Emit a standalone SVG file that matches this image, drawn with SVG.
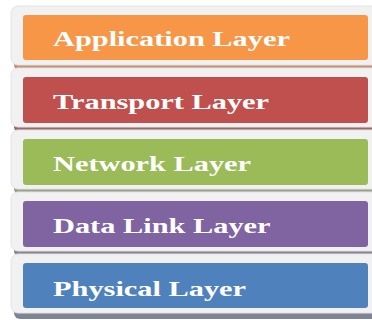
<svg xmlns="http://www.w3.org/2000/svg" width="372" height="320" viewBox="0 0 372 320">
<style>
.bg{fill:#f1f1f1;stroke:#e4e4e4;stroke-width:1}
.t{font-family:"Liberation Serif","Times New Roman",serif;font-weight:bold;font-size:22px;fill:#ffffff}
</style>
<rect width="372" height="320" fill="#ffffff"/>
<g id="application">
<rect x="14" y="12" width="370" height="59" rx="6" fill="#c48f73"/>
<rect class="bg" x="11" y="6" width="370" height="59" rx="7"/>
<rect x="23" y="15" width="345" height="45" rx="3" fill="#f79646"/>
<text class="t" transform="translate(53,46) scale(1.38,1)">Application Layer</text>
</g>
<g id="transport">
<rect x="14" y="74" width="370" height="59" rx="6" fill="#9a6a69"/>
<rect class="bg" x="11" y="68" width="370" height="59" rx="7"/>
<rect x="23" y="77" width="345" height="46" rx="3" fill="#c0504d"/>
<text class="t" transform="translate(53,109) scale(1.38,1)">Transport Layer</text>
</g>
<g id="network">
<rect x="14" y="136" width="370" height="59" rx="6" fill="#9aa08a"/>
<rect class="bg" x="11" y="130" width="370" height="59" rx="7"/>
<rect x="23" y="139" width="345" height="46" rx="3" fill="#9bbb59"/>
<text class="t" transform="translate(53,171) scale(1.38,1)">Network Layer</text>
</g>
<g id="datalink">
<rect x="14" y="198" width="370" height="59" rx="6" fill="#8a8090"/>
<rect class="bg" x="11" y="192" width="370" height="59" rx="7"/>
<rect x="23" y="201" width="345" height="46" rx="3" fill="#8064a2"/>
<text class="t" transform="translate(53,233) scale(1.38,1)">Data Link Layer</text>
</g>
<g id="physical">
<rect x="14" y="260" width="370" height="59" rx="6" fill="#7d8494"/>
<rect class="bg" x="11" y="254" width="370" height="59" rx="7"/>
<rect x="23" y="263" width="345" height="45" rx="3" fill="#4f81bd"/>
<text class="t" transform="translate(53,296) scale(1.38,1)">Physical Layer</text>
</g>
<g id="connectors"></g>
</svg>
